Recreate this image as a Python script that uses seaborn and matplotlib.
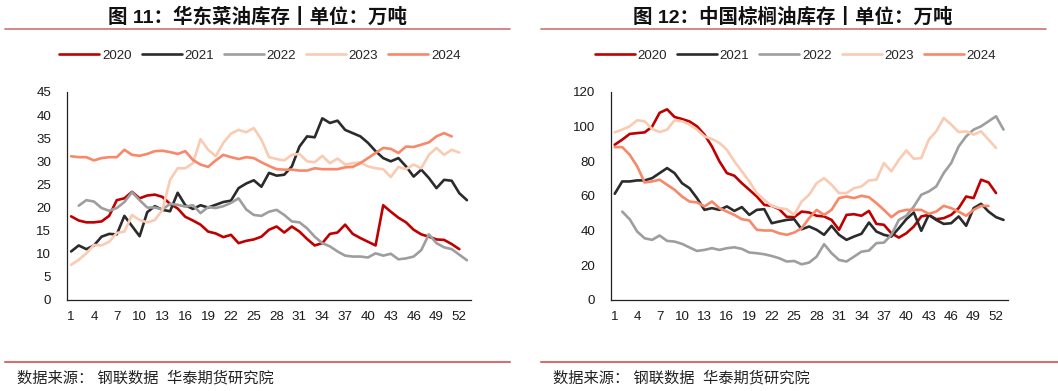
import numpy as np
import pandas as pd
import matplotlib
matplotlib.use("Agg")
import matplotlib.pyplot as plt
from matplotlib.lines import Line2D
import seaborn as sns

# ── data (weekly inventory, 10k tonnes) ─────────────────────────────────
YEARS = ["2020", "2021", "2022", "2023", "2024"]

rapeseed_2020 = [18.1, 17.2, 16.8, 16.8, 17.0, 18.2, 21.6, 22.0, 23.4, 22.0,
                 22.6, 22.8, 22.3, 20.8, 19.8, 18.0, 17.2, 16.3, 14.8, 14.4,
                 13.6, 14.1, 12.3, 12.8, 13.1, 13.7, 15.2, 15.9, 14.6, 15.9,
                 14.8, 13.2, 11.8, 12.3, 14.3, 14.6, 16.3, 14.3, 13.4, 12.6,
                 11.8, 20.5, 19.1, 17.8, 16.8, 15.2, 14.2, 13.7, 13.1, 13.0,
                 12.1, 11.0]
rapeseed_2021 = [10.5, 11.8, 11.0, 11.8, 13.7, 14.3, 14.2, 18.2, 16.0, 13.8,
                 19.0, 20.3, 19.5, 19.2, 23.2, 20.5, 19.7, 20.5, 20.0, 20.6,
                 21.2, 21.5, 24.2, 25.2, 25.9, 24.5, 27.5, 26.9, 27.1, 28.9,
                 33.2, 35.4, 35.2, 39.3, 38.3, 38.8, 36.8, 36.1, 35.4, 34.0,
                 32.2, 30.7, 30.0, 30.7, 28.9, 26.7, 28.2, 26.4, 24.2, 26.0,
                 25.8, 23.1, 21.6]
rapeseed_2022 = [None, 20.4, 21.6, 21.3, 19.9, 19.3, 19.9, 21.2, 23.3, 21.6,
                 20.0, 20.0, 19.6, 20.8, 20.6, 20.2, 20.5, 18.8, 20.1, 19.9,
                 20.3, 21.0, 22.0, 19.6, 18.4, 18.2, 19.1, 19.5, 18.4, 17.0,
                 16.8, 15.5, 13.7, 12.3, 11.6, 10.5, 9.6, 9.4, 9.4, 9.2,
                 10.1, 9.6, 10.0, 8.8, 9.0, 9.4, 10.8, 14.2, 12.3, 11.4,
                 11.0, 9.8, 8.6]
rapeseed_2023 = [7.6, 8.7, 10.1, 11.9, 11.8, 12.6, 14.5, 14.8, 18.4, 17.3,
                 16.8, 17.3, 19.5, 26.0, 28.5, 28.5, 29.6, 34.8, 32.5, 31.1,
                 34.0, 36.0, 36.8, 36.3, 37.2, 34.7, 30.9, 30.5, 30.2, 31.4,
                 31.6, 30.0, 29.8, 31.2, 29.6, 30.6, 29.3, 29.6, 29.8, 28.9,
                 28.5, 28.3, 26.6, 28.8, 28.3, 29.3, 28.5, 31.4, 32.9, 31.4,
                 32.5, 31.9]
rapeseed_2024 = [31.1, 30.9, 30.9, 30.2, 30.7, 30.9, 30.9, 32.5, 31.4, 31.2,
                 31.6, 32.2, 32.3, 32.0, 31.6, 32.2, 30.3, 29.3, 28.8, 30.2,
                 31.4, 30.9, 30.5, 30.9, 30.7, 29.8, 29.0, 28.3, 28.2, 28.2,
                 28.0, 28.0, 28.5, 28.3, 28.3, 28.3, 28.7, 28.8, 29.6, 30.7,
                 31.8, 32.9, 32.7, 31.8, 33.2, 33.1, 33.6, 34.1, 35.4, 36.1,
                 35.4]

palm_2020 = [89.6, 92.5, 95.8, 96.3, 96.7, 100.0, 108.0, 110.0, 105.6, 104.4,
             103.0, 100.2, 95.4, 88.6, 80.0, 73.2, 71.7, 67.4, 63.6, 59.7,
             54.9, 54.3, 52.4, 48.0, 47.8, 51.0, 50.5, 48.6, 48.2, 46.2,
             40.5, 49.1, 49.5, 48.6, 51.4, 43.9, 43.4, 38.5, 36.0, 38.5,
             42.4, 48.2, 49.1, 46.6, 47.2, 49.1, 53.0, 59.7, 58.8, 69.4,
             67.8, 61.7]
palm_2021 = [61.3, 68.4, 68.4, 69.0, 69.0, 70.3, 73.2, 76.1, 73.2, 67.4,
             64.5, 58.8, 52.0, 53.0, 52.0, 54.0, 51.4, 53.6, 49.1, 52.0,
             52.4, 44.3, 45.3, 46.2, 46.6, 40.8, 42.4, 40.5, 37.6, 42.8,
             37.6, 34.7, 36.6, 38.2, 44.7, 39.5, 37.6, 36.6, 41.4, 46.6,
             50.5, 39.9, 49.1, 46.2, 43.9, 44.3, 48.2, 42.8, 53.0, 55.5,
             51.0, 47.8, 46.2]
palm_2022 = [None, 51.0, 46.6, 39.5, 35.6, 34.7, 37.2, 34.1, 33.7, 32.4,
             30.3, 28.3, 28.9, 29.9, 28.9, 29.9, 30.4, 29.5, 27.4, 27.0,
             26.4, 25.4, 24.1, 22.2, 22.5, 20.6, 21.6, 25.0, 32.2, 27.0,
             23.1, 22.2, 25.0, 27.9, 28.5, 32.8, 33.1, 37.6, 46.2, 48.6,
             53.9, 60.7, 62.6, 65.5, 73.2, 79.0, 88.6, 94.4, 98.3, 100.2,
             103.1, 106.0, 98.3]
palm_2023 = [96.7, 98.3, 100.2, 103.7, 103.1, 98.7, 96.9, 98.3, 103.7, 103.1,
             101.2, 98.3, 94.4, 92.9, 90.6, 86.7, 80.0, 74.2, 68.4, 61.7,
             57.8, 54.3, 53.0, 52.4, 49.1, 56.8, 60.7, 67.4, 70.3, 66.5,
             61.7, 61.7, 64.5, 65.5, 69.0, 69.4, 79.0, 74.2, 80.9, 86.3,
             81.5, 81.9, 92.5, 97.3, 105.0, 101.2, 96.9, 97.3, 95.4, 97.3,
             92.5, 87.7]
palm_2024 = [88.2, 88.2, 83.8, 77.1, 67.8, 68.4, 69.4, 66.5, 63.6, 59.7,
             56.8, 56.3, 54.0, 56.8, 53.0, 51.0, 49.1, 46.6, 45.9, 40.5,
             40.1, 40.1, 38.5, 37.6, 38.9, 41.4, 47.2, 52.0, 49.1, 52.0,
             58.8, 59.7, 58.8, 60.1, 59.3, 55.9, 52.0, 47.8, 51.0, 52.0,
             52.0, 52.0, 49.7, 51.0, 54.3, 53.0, 51.0, 48.6, 52.0, 54.3,
             54.3]

XTICK_LABELS = list(range(1, 53, 3))

PALETTE = {
    "2020": "#C00000",
    "2021": "#2B2B2B",
    "2022": "#9E9E9E",
    "2023": "#F9CBB3",
    "2024": "#F7886A",
}
RULE_COLOR = "#CC7272"
FS = 9.6

sns.set_style("white")
plt.rcParams["font.family"] = ["Liberation Sans", "Noto Sans CJK SC"]
plt.rcParams["axes.unicode_minus"] = False


def to_long(series):
    rows = []
    for year, vals in zip(YEARS, series):
        for wk, v in enumerate(vals, start=1):
            rows.append({"week": wk, "value": v, "year": year})
    return pd.DataFrame(rows).dropna()


def draw_panel(ax, df, ymax, ystep, legend_x):
    sns.lineplot(data=df, x="week", y="value", hue="year", hue_order=YEARS,
                 palette=PALETTE, estimator=None, sort=False, linewidth=1.9,
                 ax=ax)
    ax.set_xlim(0.5, 53.6)
    ax.set_ylim(0, ymax)
    ax.set_yticks(np.arange(0, ymax + 0.1, ystep))
    ax.set_xticks(np.arange(0.5, 53, 3))
    ax.set_xticklabels([])
    ax.set_xticks(XTICK_LABELS, minor=True)
    ax.set_xticklabels([str(v) for v in XTICK_LABELS], minor=True)
    ax.tick_params(axis="x", which="major", direction="out", length=3.5,
                   width=0.8, color="#222222")
    ax.tick_params(axis="x", which="minor", length=0, pad=8, labelsize=FS,
                   labelcolor="#1a1a1a")
    ax.tick_params(axis="y", direction="out", length=3.5, width=0.8,
                   color="#222222", pad=8, labelsize=FS, labelcolor="#1a1a1a")
    ax.set_xlabel("")
    ax.set_ylabel("")
    sns.despine(ax=ax)
    for s in ("left", "bottom"):
        ax.spines[s].set_color("#222222")
        ax.spines[s].set_linewidth(0.9)

    handles, labels = ax.get_legend_handles_labels()
    ax.legend(handles, labels, loc="center", ncol=5, frameon=False,
              bbox_to_anchor=(legend_x, 0.857), bbox_transform=fig.transFigure,
              fontsize=FS, handlelength=3.0, handletextpad=0.2,
              columnspacing=0.75)


fig = plt.figure(figsize=(10.58, 3.91), dpi=100)

ax1 = fig.add_axes([67.3 / 1058, 1 - 300 / 391, (471.5 - 67.3) / 1058, 208 / 391])
ax2 = fig.add_axes([611.0 / 1058, 1 - 300 / 391, (1008 - 611.0) / 1058, 208 / 391])

draw_panel(ax1, to_long([rapeseed_2020, rapeseed_2021, rapeseed_2022,
                         rapeseed_2023, rapeseed_2024]), 45, 5, 0.2457)
draw_panel(ax2, to_long([palm_2020, palm_2021, palm_2022,
                         palm_2023, palm_2024]), 120, 20, 0.7519)

# ── titles, rules and source notes ───────────────────────────────────────
fig.text(257 / 1058, 1 - 17 / 391, "图 11：华东菜油库存丨单位：万吨",
         ha="center", va="center", fontsize=14, fontweight="bold",
         color="#111111")
fig.text(793 / 1058, 1 - 17 / 391, "图 12：中国棕榈油库存丨单位：万吨",
         ha="center", va="center", fontsize=14, fontweight="bold",
         color="#111111")

for x0, x1 in [(5, 510), (541, 1046)]:
    fig.add_artist(Line2D([x0 / 1058, x1 / 1058], [1 - 29 / 391] * 2,
                          color=RULE_COLOR, linewidth=1.2,
                          transform=fig.transFigure))
for x0, x1 in [(5, 510), (541, 1058)]:
    fig.add_artist(Line2D([x0 / 1058, x1 / 1058], [1 - 362 / 391] * 2,
                          color=RULE_COLOR, linewidth=1.5,
                          transform=fig.transFigure))

for x in (17, 553):
    fig.text(x / 1058, 1 - 378 / 391, "数据来源： 钢联数据  华泰期货研究院",
             ha="left", va="center", fontsize=11, color="#222222")

fig.savefig("out.png", dpi=100)
